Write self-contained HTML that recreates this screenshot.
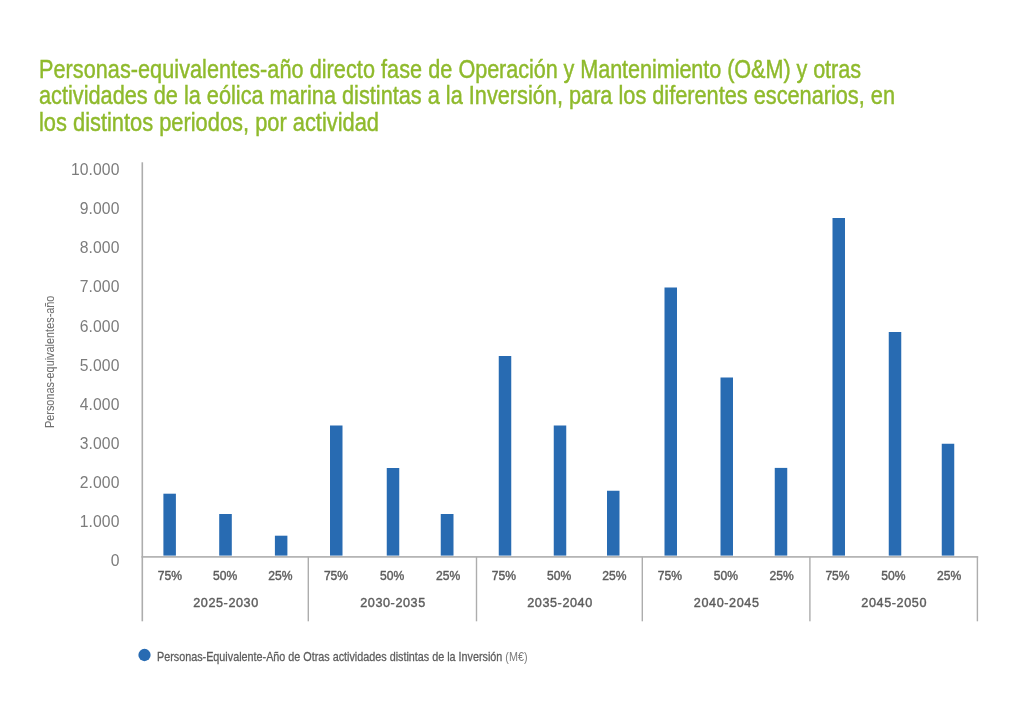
<!DOCTYPE html>
<html lang="es"><head><meta charset="utf-8"><title>Personas-equivalentes-año</title>
<style>
html,body{margin:0;padding:0;background:#fff;}
body{width:1024px;height:717px;position:relative;overflow:hidden;font-family:"Liberation Sans",sans-serif;}
.t{position:absolute;white-space:nowrap;line-height:1;}
.title{left:38.5px;top:0;color:#8fba2c;font-size:25.6px;transform-origin:0 0;-webkit-text-stroke:0.45px #8fba2c;}
.yl{color:#7c7c7c;font-size:15.7px;text-align:right;width:80px;left:39.5px;letter-spacing:0.1px;}
.cl{color:#5c5c5c;font-size:12.1px;text-align:center;width:60px;letter-spacing:0;-webkit-text-stroke:0.4px #5c5c5c;}
.gl{color:#5c5c5c;font-size:12.6px;text-align:center;width:120px;letter-spacing:0.6px;-webkit-text-stroke:0.4px #5c5c5c;}
.bar{position:absolute;background:#286bb2;}
.ln{position:absolute;background:#adadad;}
.leg{left:157px;top:650.1px;color:#5c5c5c;font-size:13.6px;transform-origin:0 0;transform:scaleX(0.7935);-webkit-text-stroke:0.3px #5c5c5c;}
.ytitle{left:0;top:0;color:#707070;font-size:13.6px;transform-origin:0 0;-webkit-text-stroke:0.05px #707070;}
</style></head><body>

<div class="t title" id="tl0" style="top:56.7px;transform:scaleX(0.8445)"><span style="letter-spacing:0.07px">Personas-equivalentes-año directo fase de </span><span style="letter-spacing:-0.07px">Operación y Mantenimiento (O&amp;M) y otras</span></div>
<div class="t title" id="tl1" style="top:83.0px;transform:scaleX(0.8486)">actividades de la eólica marina distintas a la Inversión, para los diferentes escenarios, en</div>
<div class="t title" id="tl2" style="top:109.9px;transform:scaleX(0.8535)">los distintos periodos, por actividad</div>
<div class="t yl" style="top:162px">10.000</div>
<div class="t yl" style="top:201px">9.000</div>
<div class="t yl" style="top:240px">8.000</div>
<div class="t yl" style="top:279px">7.000</div>
<div class="t yl" style="top:319px">6.000</div>
<div class="t yl" style="top:358px">5.000</div>
<div class="t yl" style="top:397px">4.000</div>
<div class="t yl" style="top:436px">3.000</div>
<div class="t yl" style="top:475px">2.000</div>
<div class="t yl" style="top:514px">1.000</div>
<div class="t yl" style="top:553px">0</div>
<svg width="1024" height="717" viewBox="0 0 1024 717" style="position:absolute;left:0;top:0">
<rect x="141.5" y="162.3" width="1.6" height="459.0" fill="#adadad"/>
<rect x="141.5" y="556.10" width="836.7" height="1.6" fill="#adadad"/>
<rect x="307.60" y="556.8" width="1.4" height="64.5" fill="#adadad"/>
<rect x="475.80" y="556.8" width="1.4" height="64.5" fill="#adadad"/>
<rect x="641.60" y="556.8" width="1.4" height="64.5" fill="#adadad"/>
<rect x="809.20" y="556.8" width="1.4" height="64.5" fill="#adadad"/>
<rect x="976.70" y="556.8" width="1.4" height="64.5" fill="#adadad"/>
<rect x="163.40" y="493.70" width="12.50" height="61.90" fill="#286bb2"/>
<rect x="219.20" y="514.00" width="12.60" height="41.60" fill="#286bb2"/>
<rect x="274.90" y="535.70" width="12.50" height="19.90" fill="#286bb2"/>
<rect x="330.00" y="425.50" width="12.50" height="130.10" fill="#286bb2"/>
<rect x="386.75" y="468.00" width="12.50" height="87.60" fill="#286bb2"/>
<rect x="440.75" y="514.00" width="12.75" height="41.60" fill="#286bb2"/>
<rect x="498.75" y="356.00" width="12.50" height="199.60" fill="#286bb2"/>
<rect x="553.75" y="425.50" width="12.50" height="130.10" fill="#286bb2"/>
<rect x="607.00" y="490.75" width="12.50" height="64.85" fill="#286bb2"/>
<rect x="664.50" y="287.50" width="12.50" height="268.10" fill="#286bb2"/>
<rect x="720.50" y="377.50" width="12.50" height="178.10" fill="#286bb2"/>
<rect x="774.75" y="467.90" width="12.50" height="87.70" fill="#286bb2"/>
<rect x="832.50" y="218.00" width="12.50" height="337.60" fill="#286bb2"/>
<rect x="888.75" y="332.00" width="12.50" height="223.60" fill="#286bb2"/>
<rect x="941.75" y="443.75" width="12.50" height="111.85" fill="#286bb2"/>
<circle cx="144.5" cy="655" r="6.15" fill="#286bb2"/>
</svg>
<div class="t cl" style="left:139.8px;top:570px">75%</div>
<div class="t cl" style="left:195.1px;top:570px">50%</div>
<div class="t cl" style="left:250.3px;top:570px">25%</div>
<div class="t cl" style="left:306.0px;top:570px">75%</div>
<div class="t cl" style="left:362.1px;top:570px">50%</div>
<div class="t cl" style="left:418.2px;top:570px">25%</div>
<div class="t cl" style="left:473.8px;top:570px">75%</div>
<div class="t cl" style="left:529.1px;top:570px">50%</div>
<div class="t cl" style="left:584.4px;top:570px">25%</div>
<div class="t cl" style="left:639.9px;top:570px">75%</div>
<div class="t cl" style="left:695.8px;top:570px">50%</div>
<div class="t cl" style="left:751.7px;top:570px">25%</div>
<div class="t cl" style="left:807.5px;top:570px">75%</div>
<div class="t cl" style="left:863.4px;top:570px">50%</div>
<div class="t cl" style="left:919.2px;top:570px">25%</div>
<div class="t gl" style="left:166.0px;top:597px">2025-2030</div>
<div class="t gl" style="left:333.0px;top:597px">2030-2035</div>
<div class="t gl" style="left:500.0px;top:597px">2035-2040</div>
<div class="t gl" style="left:666.7px;top:597px">2040-2045</div>
<div class="t gl" style="left:834.2px;top:597px">2045-2050</div>
<div class="t leg" id="leg">Personas-Equivalente-Año de Otras actividades distintas de la Inversión <span style="color:#7d7d7d;-webkit-text-stroke:0">(M€)</span></div>
<div class="t ytitle" id="yt" style="transform:translate(42.9px,428px) rotate(-90deg) scaleX(0.80)">Personas-equivalentes-año</div>
</body></html>
